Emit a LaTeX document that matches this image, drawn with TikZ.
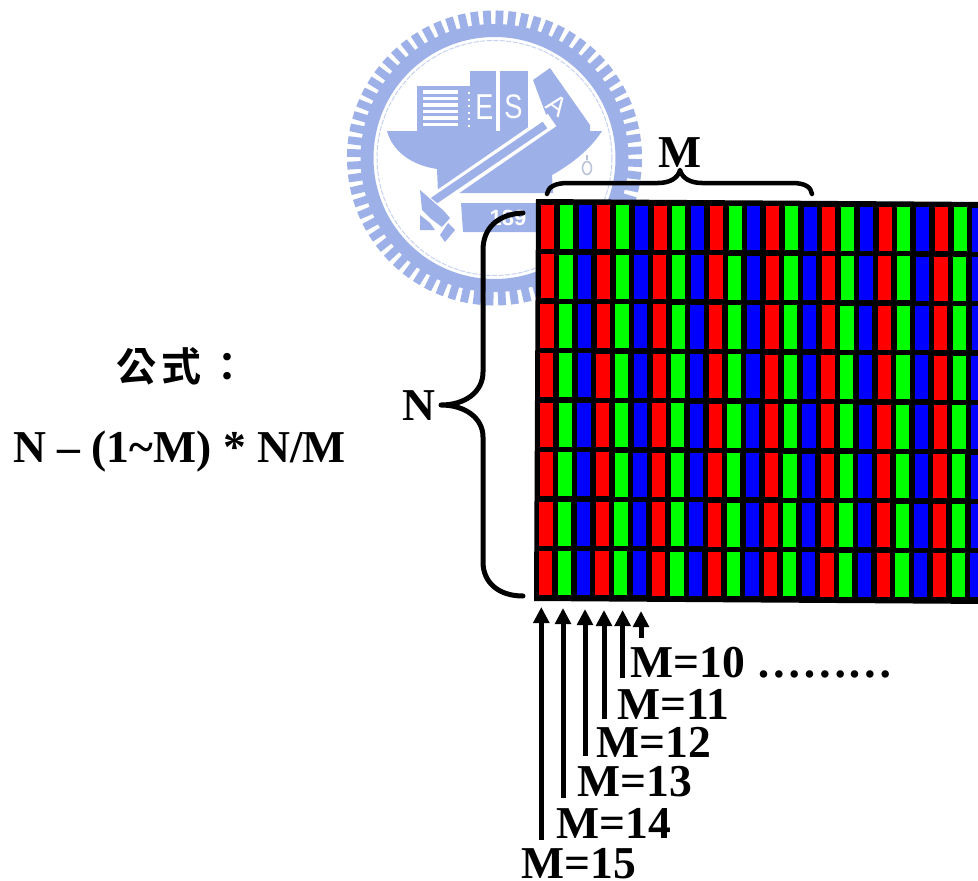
\documentclass[tikz,border=0pt]{standalone}
\usepackage{fontspec}
\setmainfont{Liberation Serif}
\newfontfamily\cjkbold[LetterSpace=14]{Noto Sans CJK TC Bold}
\newfontfamily\logosans{Liberation Sans}
\usetikzlibrary{arrows.meta}
\definecolor{logoblue}{HTML}{9DB0E8}
\definecolor{logopale}{HTML}{C6D2F0}
\definecolor{cellred}{HTML}{FF0000}
\definecolor{cellgreen}{HTML}{00FF00}
\definecolor{cellblue}{HTML}{0000FF}
\tikzset{
  lbl/.style={inner sep=0pt,anchor=base west,font=\fontsize{45.6}{50}\selectfont\bfseries},
  bracestroke/.style={line width=5pt,line cap=round,line join=round,black},
  uparrow/.style={line width=5pt,-{Triangle[width=15.5pt,length=16pt]}},
  logofill/.style={fill=logoblue,draw=none},
  logoletter/.style={inner sep=0pt,text=white,font=\logosans\bfseries},
}
\begin{document}
\begin{tikzpicture}[x=1pt,y=-1pt]
\useasboundingbox (0,0) rectangle (978,881);
% ---------- emblem ----------
\coordinate (logoc) at (494.5,158);
\foreach \a in {0,5,...,355}
  \draw[logoblue,line width=7.8pt] (logoc) ++(\a+2:124) -- ++(\a+2:23.5);
\draw[logoblue,line width=13pt] (logoc) circle[radius=127.5];
\draw[logopale,line width=1pt,dash pattern=on 5pt off 1.5pt] (logoc) circle[radius=117.5];
% hull
\path[logofill] (387,131) -- (602,131) .. controls (590,150) and (570,165) .. (552,175)
  -- (553,193) -- (438,193) -- (437,169) .. controls (410,165) and (392,150) .. (387,131) -- cycle;
% books
\path[logofill] (417,86) rectangle (470,131);
\foreach \s in {90,96.5,...,126}
  \fill[white] (423,\s) rectangle (458,\s+3.6);
\foreach \s in {92,98.5,...,127}
  \fill[white] (467.5,\s) rectangle (469.5,\s+2);
\path[logofill] (470,71) rectangle (496,131);
\path[logofill] (500,71) rectangle (528,131);
\path[logofill] (533,80) -- (550,68) -- (590,125) -- (590,133) -- (553,133) -- cycle;
\fill[white] (528,103) -- (533,100) -- (553,124) -- (528,128.5) -- cycle;
\path[logofill] (500,128) rectangle (560,135);
\node[logoletter,font=\logosans\fontsize{36}{36}\selectfont] (letE) at (484.5,107) {\scalebox{0.75}[1]{E}};
\node[logoletter,font=\logosans\fontsize{34}{34}\selectfont] (letS) at (513.5,107) {\scalebox{0.8}[1]{S}};
\node[logoletter,font=\logosans\fontsize{27}{27}\selectfont,rotate=-36] (letA) at (557,105) {A};
% plaque
\path[logofill] (461,203) -- (545,203) -- (545,232) -- (463,232) -- cycle;
\node[logoletter,font=\logosans\fontsize{22}{22}\selectfont\bfseries] (year) at (508,218) {189};
% shaft
\draw[white,line width=15pt] (552,120) -- (430,204);
\draw[logoblue,line width=8pt] (545,125) -- (432,202);
% hammer head
\fill[white] (416,186) -- (460,222) -- (447,248) -- (416,235) -- cycle;
\path[logofill] (420,190) -- (437,205) -- (443,210) -- (450,218) -- (442,227) -- (430,218) -- (422,210) -- cycle;
\path[logofill] (448,223) -- (455,230) -- (445,242) -- (440,235) -- cycle;
\path[logofill] (420,215) -- (430,223) -- (435,230) -- (420,230) -- cycle;
% hook
\draw[logopale!80!gray,line width=1.6pt] (587,155) -- (587,160);
\draw[logopale!80!gray,line width=1.6pt] (587,168) ellipse[x radius=4.5,y radius=6.5];
% ---------- sub-pixel panel ----------
\begin{scope}
\clip (0,0) rectangle (978,881);
\fill[black] (536,199) -- (990,202) -- (990,604) -- (534,601) -- cycle;
\foreach \r in {0,...,7}{
  \foreach \c [evaluate=\c as \k using {int(mod(\c,3))}] in {0,...,23}{
    \pgfmathsetmacro{\xl}{541+18.75*\c-0.0055*49.4*\r}
    \pgfmathsetmacro{\yt}{205+49.42*\r+0.0058*18.75*\c}
    \ifnum\k=0 \def\cc{cellred}\fi
    \ifnum\k=1 \def\cc{cellgreen}\fi
    \ifnum\k=2 \def\cc{cellblue}\fi
    \fill[\cc] (\xl,\yt) rectangle ++(13.2,44);
  }
}
\end{scope}
% ---------- braces ----------
\coordinate (mL) at (547,194);
\coordinate (mT) at (680,170);
\coordinate (mR) at (812,194);
\draw[bracestroke,line width=4.5pt] (mL) .. controls (548,187) and (555,183) .. (568,183)
  -- (658,183) .. controls (670,183) and (678,178) .. (mT)
  .. controls (682,178) and (690,183) .. (702,183)
  -- (792,183) .. controls (805,183) and (811,187) .. (mR);
\coordinate (nT) at (523,213);
\coordinate (nM) at (441,405);
\coordinate (nB) at (523,596);
\draw[bracestroke] (nT) .. controls (498,214) and (483,228) .. (483,250)
  -- (483,372) .. controls (483,392) and (465,405) .. (nM)
  .. controls (465,405) and (483,418) .. (483,437)
  -- (483,562) .. controls (483,582) and (498,596) .. (nB);
% ---------- arrows ----------
\foreach \n/\x/\tip/\tail in {a/541.3/607/840,b/563/608/798,c/585/609/756,d/604/610/719,e/622.6/610/678,f/641/611/638}{
  \coordinate (\n tip) at (\x,\tip);
  \coordinate (\n tail) at (\x,\tail);
  \draw[uparrow] (\n tail) -- (\n tip);
}
% ---------- labels ----------
\node[lbl] (lM) at (658,167) {M};
\node[lbl] (lN) at (402,420) {N};
\node[inner sep=0pt,anchor=base west,font=\fontsize{40}{44}\cjkbold] (gongshi) at (116,381) {公式：};
\node[lbl] (formula) at (13,462) {N – (1\textasciitilde M) * N/M};
\node[lbl] (m10) at (630,677) {M=10};
\node[lbl] (dots) at (756.5,677) {………};
\node[lbl] (m11) at (617,719) {M=11};
\node[lbl] (m12) at (596,757) {M=12};
\node[lbl] (m13) at (577,796) {M=13};
\node[lbl] (m14) at (556,838) {M=14};
\node[lbl] (m15) at (521,878) {M=15};
\end{tikzpicture}
\end{document}
